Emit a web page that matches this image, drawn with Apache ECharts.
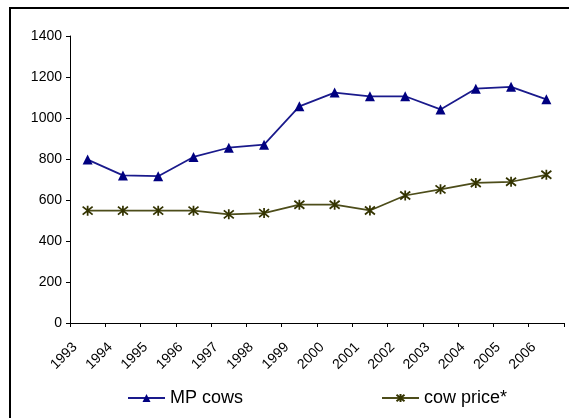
<!DOCTYPE html>
<html>
<head>
<meta charset="utf-8">
<script src="https://cdn.jsdelivr.net/npm/echarts@6/dist/echarts.min.js"></script>
<style>
  html, body { margin: 0; padding: 0; background: #fff; }
  #chart { width: 569px; height: 418px; }
</style>
</head>
<body>
<div id="chart"></div>
<script>
// data
let years = ["1993", "1994", "1995", "1996", "1997", "1998", "1999",
             "2000", "2001", "2002", "2003", "2004", "2005", "2006"];
let mpCows = [797, 720, 716, 810, 855, 870, 1057, 1124, 1106, 1106, 1042, 1143, 1152, 1091];
let cowPrice = [548, 548, 548, 548, 530, 536, 577, 577, 549, 622, 652, 683, 689, 723];
let yTicks = { min: 0, max: 1400, interval: 200 };

let chart = echarts.init(document.getElementById("chart"));
let font = "Liberation Sans";

let option = {
  animation: false,
  backgroundColor: "#fff",
  textStyle: { fontFamily: font },
  grid: { left: 70, right: 5, top: 36, bottom: 95 },
  graphic: [
    {
      // the frame round the chart (only top and left show)
      type: "rect",
      shape: { x: 10, y: 8, width: 700, height: 600 },
      style: { fill: "none", stroke: "#000", lineWidth: 2 },
      silent: true
    }
  ],
  legend: {
    left: 122,
    top: 384,
    itemGap: 138,
    itemWidth: 37,
    itemHeight: 10,
    textStyle: { fontFamily: font, fontSize: 18, color: "#000" },
    data: ["MP cows", "cow price*"]
  },
  xAxis: [
    {
      type: "category",
      position: "bottom",
      data: years,
      boundaryGap: true,
      axisLine: { lineStyle: { color: "#000", width: 1 } },
      axisTick: { show: true, length: 4, lineStyle: { color: "#000" } },
      axisLabel: { show: false },
      splitLine: { show: false }
    },
    {
      // labels sit on the tick marks, like the original
      type: "category",
      position: "bottom",
      data: years.concat([""]),
      boundaryGap: false,
      axisLine: { show: false },
      axisTick: { show: false },
      axisLabel: {
        interval: 0,
        rotate: 45,
        verticalAlign: "top",
        margin: 17,
        fontFamily: font,
        fontSize: 14,
        color: "#000"
      },
      splitLine: { show: false }
    }
  ],
  yAxis: {
    type: "value",
    min: yTicks.min,
    max: yTicks.max,
    interval: yTicks.interval,
    axisLine: { show: true, lineStyle: { color: "#000", width: 1 } },
    axisTick: { show: true, length: 4, lineStyle: { color: "#000" } },
    axisLabel: {
      margin: 8,
      fontFamily: font,
      fontSize: 14,
      color: "#000",
      formatter: function(v) {
        return String(v);
      }
    },
    splitLine: { show: false }
  },
  series: [
    {
      name: "MP cows",
      type: "line",
      xAxisIndex: 0,
      data: mpCows,
      symbol: "triangle",
      symbolSize: 10,
      lineStyle: { color: "#1a1a8c", width: 1.75 },
      itemStyle: { color: "#000080" }
    },
    {
      name: "cow price*",
      type: "line",
      xAxisIndex: 0,
      data: cowPrice,
      symbol: "path://M5,0L5,10M0,1L10,9M0,9L10,1",
      symbolSize: 10,
      lineStyle: { color: "#4d4d1a", width: 1.75 },
      itemStyle: { color: "#333300", borderColor: "#333300", borderWidth: 1.75 }
    }
  ]
};
chart.setOption(option);
</script>
</body>
</html>
